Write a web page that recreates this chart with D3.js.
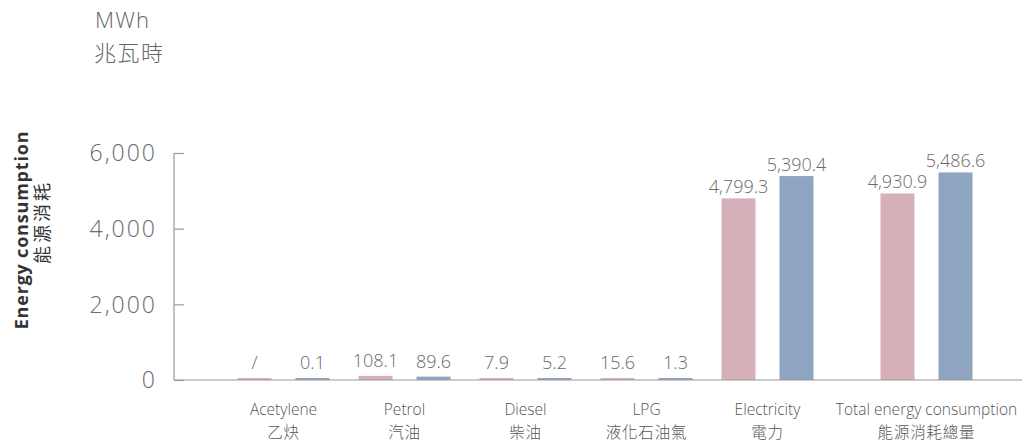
<!DOCTYPE html>
<html>
<head>
<meta charset="utf-8">
<script src="https://cdn.jsdelivr.net/npm/d3@7"></script>
<style>
  html, body { margin: 0; padding: 0; background: #fff; }
  svg { display: block; }
  text { font-family: "Open Sans", "Noto Sans CJK TC", sans-serif; }
</style>
</head>
<body>
<svg id="chart" width="1022" height="442"></svg>
<script>
// Energy consumption by source, two reporting years
const categories = ["Acetylene", "Petrol", "Diesel", "LPG", "Electricity", "Total energy consumption"];
const categoriesZh = ["乙炔", "汽油", "柴油", "液化石油氣", "電力", "能源消耗總量"];
const seriesNames = ["Year 1", "Year 2"];
const year1Values = [null, 108.1, 7.9, 15.6, 4799.3, 4930.9];
const year2Values = [0.1, 89.6, 5.2, 1.3, 5390.4, 5486.6];
const yTicks = [0, 2000, 4000, 6000];

const colors = ["#d6b0b8", "#8fa4c1"];
const svg = d3.select("#chart");
const cjk = "'Noto Sans CJK TC', sans-serif";

const left = 174, baseY = 380, topY = 153;
const y = d3.scaleLinear().domain([0, 6000]).range([baseY, topY]);

// categories laid out on a band scale; the total group sits a little further right
const x = d3.scaleBand().domain(categories).range([223, 949]).padding(0);
const totalGap = 38;
const groupCenter = (c, i) => x(c) + x.bandwidth() / 2 + (i === categories.length - 1 ? totalGap : 0);

const inner = d3.scaleBand().domain(seriesNames).range([-46, 46]).paddingInner(0.414);
const barW = inner.bandwidth();

// y axis with inward ticks
const yAxis = d3.axisRight(y).tickValues(yTicks).tickSize(10).tickFormat("");
const ga = svg.append("g").attr("transform", `translate(${left},0)`).call(yAxis);
ga.select(".domain").attr("stroke", "#9a9a9a").attr("stroke-width", 1.2).attr("d", `M0,${topY}V${baseY}`);
ga.selectAll(".tick line").attr("stroke", "#9a9a9a").attr("stroke-width", 1.2);

svg.append("g").selectAll("text").data(yTicks).join("text")
  .attr("x", 157).attr("y", d => y(d)).attr("dy", "0.36em")
  .attr("text-anchor", "end").attr("font-size", 23).attr("font-weight", 300)
  .attr("letter-spacing", 2)
  .attr("fill", "#6a6a6a").text(d => d3.format(",")(d));

// bars
const rows = [];
categories.forEach((c, i) => {
  [year1Values[i], year2Values[i]].forEach((v, k) => rows.push({ c, i, k, v }));
});
const minH = 2;
const barTop = d => Math.min(y(d.v || 0), baseY - minH);

svg.append("g").selectAll("rect").data(rows).join("rect")
  .attr("x", d => groupCenter(d.c, d.i) + inner(seriesNames[d.k]))
  .attr("width", barW)
  .attr("y", d => barTop(d))
  .attr("height", d => baseY - barTop(d))
  .attr("fill", d => colors[d.k]);

// baseline
svg.append("line").attr("x1", left).attr("x2", 1022).attr("y1", baseY).attr("y2", baseY)
  .attr("stroke", "#9a9a9a").attr("stroke-width", 1.2);

// value labels
const fmt = v => v === null ? "/" : (v >= 1000 ? d3.format(",.1f")(v) : d3.format(".1f")(v));
svg.append("g").selectAll("text").data(rows).join("text")
  .attr("x", d => groupCenter(d.c, d.i) + inner(seriesNames[d.k]) + barW / 2)
  .attr("y", d => barTop(d) - (d.v > 1000 ? 5 : 9))
  .attr("text-anchor", "middle").attr("font-size", 18).attr("font-weight", 300)
  .attr("fill", "#6a6a6a").text(d => fmt(d.v));

// category labels (English over Chinese)
const cat = svg.append("g").selectAll("g").data(categories).join("g")
  .attr("transform", (c, i) => `translate(${groupCenter(c, i)},0)`);
cat.append("text").attr("y", 415).attr("text-anchor", "middle").attr("font-size", 15.5)
  .attr("font-weight", 300).attr("fill", "#555").text(c => c);
cat.append("text").attr("y", 438).attr("text-anchor", "middle").attr("font-size", 15.5)
  .attr("letter-spacing", 0.8)
  .attr("fill", "#555").style("font-family", cjk).attr("font-weight", 300)
  .text((c, i) => categoriesZh[i]);

// y axis title
const yt = svg.append("g").attr("transform", "translate(28,230) rotate(-90)");
yt.append("text").attr("text-anchor", "middle").attr("font-size", 18).attr("font-weight", 700)
  .attr("letter-spacing", 0.8)
  .attr("fill", "#333").text("Energy consumption");
yt.append("text").attr("x", 8).attr("y", 21).attr("text-anchor", "middle").attr("font-size", 18)
  .attr("letter-spacing", 3)
  .attr("fill", "#333").style("font-family", cjk).text("能源消耗");

// unit
svg.append("text").attr("x", 95).attr("y", 28).attr("font-size", 22).attr("font-weight", 300)
  .attr("letter-spacing", 1.2)
  .attr("fill", "#666").text("MWh");
svg.append("text").attr("x", 94).attr("y", 61).attr("font-size", 22).attr("font-weight", 300)
  .attr("letter-spacing", 1.5)
  .attr("fill", "#666").style("font-family", cjk).text("兆瓦時");
</script>
</body>
</html>
